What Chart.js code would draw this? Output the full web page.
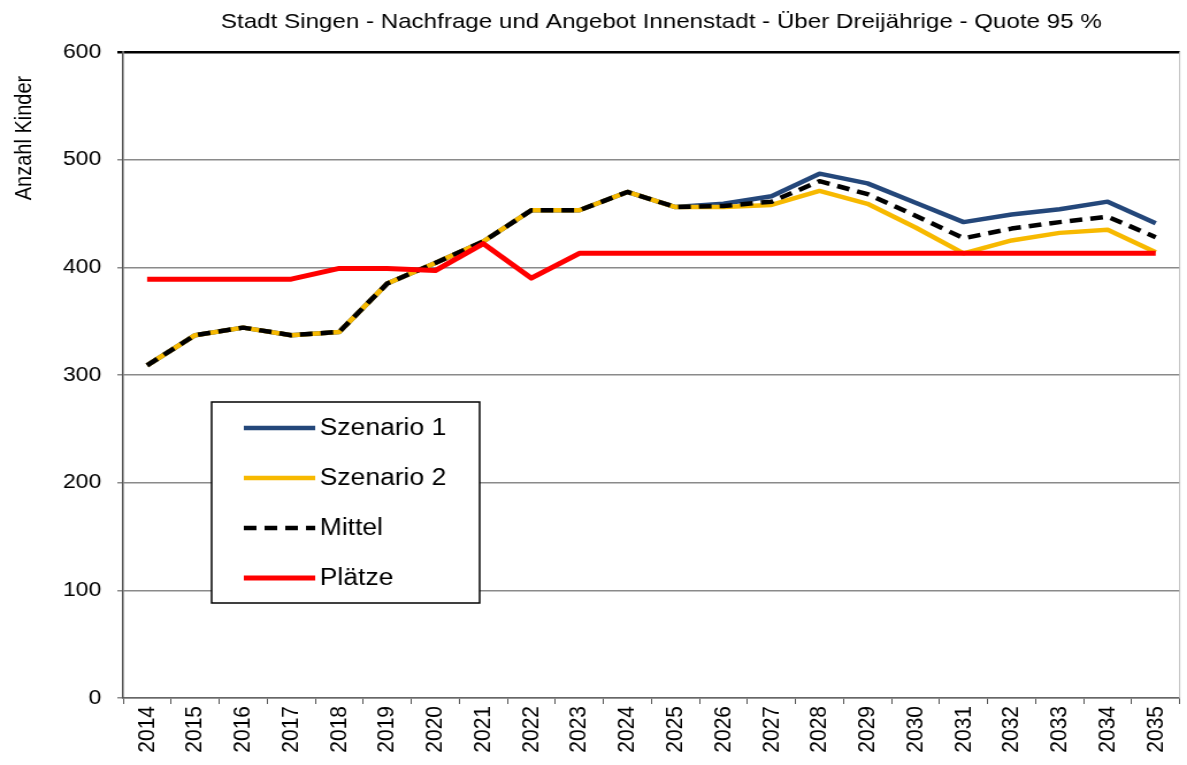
<!DOCTYPE html>
<html>
<head>
<meta charset="utf-8">
<script src="https://cdn.jsdelivr.net/npm/chart.js@4"></script>
<style>
  html, body { margin: 0; padding: 0; background: #fff; overflow: hidden; }
  /* das original ist horizontal gestreckt, also wird das canvas auch gestreckt */
  #wrap { width: 1032px; height: 765px; transform: scaleX(1.1502); transform-origin: 0 0; }
</style>
</head>
<body>
<div id="wrap"><canvas id="chart" width="1032" height="765"></canvas></div>
<script>
const years = ['2014','2015','2016','2017','2018','2019','2020','2021','2022','2023','2024',
  '2025','2026','2027','2028','2029','2030','2031','2032','2033','2034','2035'];
const szenario1 = [309,337,344,337,340,385,404,424,453,453,470,456,459,466,487,478,460,442,449,454,461,441];
const szenario2 = [309,337,344,337,340,385,404,424,453,453,470,456,456,458,471,459,437,413,425,432,435,414];
const mittel = [309,337,344,337,340,385,404,424,453,453,470,456,457,461,480,468,448,427,436,442,447,428];
const plaetze = [389,389,389,389,399,399,397,422,390,413,413,413,413,413,413,413,413,413,413,413,413,413];
const yTicks = [0,100,200,300,400,500,600];

const chartTitle = 'Stadt Singen - Nachfrage und Angebot Innenstadt - Über Dreijährige - Quote 95 %';
const yTitle = 'Anzahl Kinder';
const font = '"Liberation Sans", Arial, sans-serif';

// titel, achsentitel, rechter rand und legende selbst zeichnen
const extras = {
  id: 'extras',
  afterDraw(chart) {
    let ctx = chart.ctx;
    let area = chart.chartArea;
    ctx.save();
    ctx.strokeStyle = '#bdbdbd';
    ctx.lineWidth = 1;
    ctx.beginPath();
    ctx.moveTo(area.right, area.top);
    ctx.lineTo(area.right, area.bottom);
    ctx.stroke();

    ctx.fillStyle = '#000';
    ctx.font = '21px ' + font;
    ctx.textAlign = 'center';
    ctx.textBaseline = 'middle';
    ctx.fillText(chartTitle, 575, 22);

    ctx.translate(21, 138);
    ctx.rotate(-Math.PI / 2);
    ctx.font = '20px ' + font;
    ctx.fillText(yTitle, 0, 0);
    ctx.restore();

    // legende
    let box = { x: 184, y: 402, w: 233, h: 201 };
    ctx.save();
    ctx.fillStyle = '#fff';
    ctx.fillRect(box.x, box.y, box.w, box.h);
    ctx.strokeStyle = '#000';
    ctx.lineWidth = 1.5;
    ctx.strokeRect(box.x, box.y, box.w, box.h);
    ctx.font = '23px ' + font;
    ctx.textBaseline = 'middle';
    ctx.textAlign = 'left';
    chart.data.datasets.forEach((ds, i) => {
      let y = 428 + i * 50;
      ctx.beginPath();
      ctx.strokeStyle = ds.borderColor;
      ctx.lineWidth = ds.borderWidth;
      ctx.setLineDash(ds.borderDash || []);
      ctx.moveTo(212, y);
      ctx.lineTo(274, y);
      ctx.stroke();
      ctx.setLineDash([]);
      ctx.fillStyle = '#000';
      ctx.fillText(ds.label, 278, y + 1);
    });
    ctx.restore();
  }
};

new Chart(document.getElementById('chart'), {
  type: 'line',
  data: {
    labels: years,
    datasets: [
      { label: 'Szenario 1', data: szenario1, borderColor: '#24477a', borderWidth: 4.5, order: 4 },
      { label: 'Szenario 2', data: szenario2, borderColor: '#f7b900', borderWidth: 4.5, order: 3 },
      { label: 'Mittel', data: mittel, borderColor: '#000', borderWidth: 4.5, borderDash: [11, 7], order: 2 },
      { label: 'Plätze', data: plaetze, borderColor: '#ff0000', borderWidth: 5, order: 1 }
    ]
  },
  options: {
    responsive: false,
    animation: false,
    layout: { padding: { top: 52, right: 2, left: 0, bottom: 0 } },
    elements: {
      point: { radius: 0 },
      line: { tension: 0, borderCapStyle: 'butt', borderJoinStyle: 'round' }
    },
    plugins: {
      legend: { display: false },
      tooltip: { enabled: false }
    },
    scales: {
      x: {
        offset: true,
        grid: { display: true, offset: true, drawOnChartArea: false, tickLength: 6, color: '#555', tickWidth: 1 },
        border: { color: '#666', width: 1.5 },
        ticks: {
          font: { family: font, size: 21 },
          color: '#000',
          minRotation: 90,
          maxRotation: 90,
          padding: 2,
          autoSkip: false
        },
        afterFit(scale) { scale.height = 67; }
      },
      y: {
        min: 0,
        max: 600,
        afterBuildTicks(scale) { scale.ticks = yTicks.map(v => ({ value: v })); },
        grid: {
          color: ctx => ctx.tick && ctx.tick.value === 600 ? '#000' : '#8a8a8a',
          lineWidth: ctx => ctx.tick && ctx.tick.value === 600 ? 2.5 : 1.5,
          tickLength: 5
        },
        border: { color: '#555', width: 1.5 },
        ticks: {
          font: { family: font, size: 20 },
          color: '#000',
          padding: 14
        },
        afterFit(scale) { scale.width = 107; }
      }
    }
  },
  plugins: [extras]
});
</script>
</body>
</html>
